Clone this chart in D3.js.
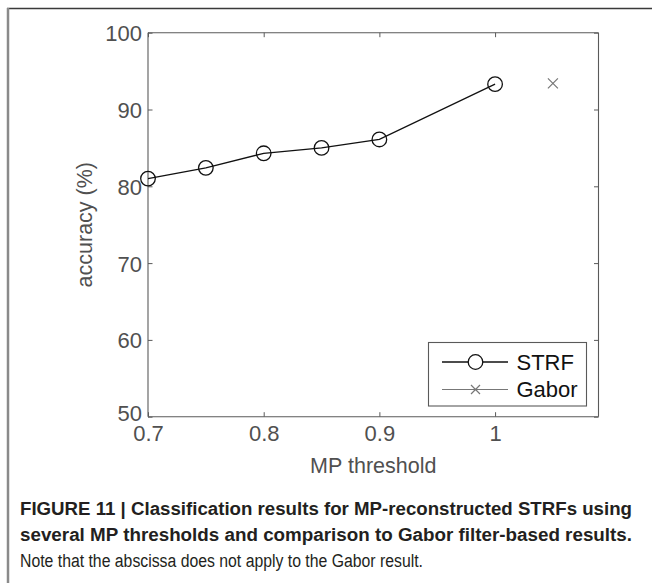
<!DOCTYPE html>
<html lang="en">
<head>
    <meta charset="UTF-8">
    <title>MP threshold accuracy</title>
    <style>
        body {
            margin: 0;
            padding: 0;
            background: #fff;
            overflow: hidden;
            font-family: "Liberation Sans", Arial, sans-serif;
        }
        .tick-label {
            fill: #505050;
        }
        .axis-title {
            font-size: 21.5px;
            fill: #505050;
        }
        .caption-bold {
            font-family: "Liberation Sans Narrow", "Arial Narrow", "Liberation Sans", sans-serif;
            font-weight: bold;
            font-size: 18px;
            fill: #231f20;
        }
        .caption {
            font-family: "Liberation Sans Narrow", "Arial Narrow", "Liberation Sans", sans-serif;
            font-size: 18px;
            fill: #231f20;
        }
    </style>
    <script src="https://d3js.org/d3.v7.min.js"></script>
</head>
<body>
<script>
    // data
    const thresholds = [0.7, 0.75, 0.8, 0.85, 0.9, 1.0];
    const strfAccuracy = [81.0, 82.4, 84.3, 85.0, 86.1, 93.3];
    const gaborX = 1.05;          // placed to the right, abscissa does not apply
    const gaborAccuracy = 93.4;

    const xTicks = [0.7, 0.8, 0.9, 1];
    const yTicks = [50, 60, 70, 80, 90, 100];

    const W = 652, H = 583;
    const plot = {left: 148, right: 598.5, top: 32.7, bottom: 416.7};

    const svg = d3.select('body').append('svg')
        .attr('width', W)
        .attr('height', H);

    // figure frame (top and left rules)
    svg.append('line')
        .attr('x1', 7).attr('x2', W).attr('y1', 8.5).attr('y2', 8.5)
        .attr('stroke', '#3a3a3a').attr('stroke-width', 1.5);
    svg.append('line')
        .attr('x1', 8).attr('x2', 8).attr('y1', 8).attr('y2', H)
        .attr('stroke', '#8a8a8a').attr('stroke-width', 2.5);

    const x = d3.scaleLinear().domain([0.7, 1.0894]).range([plot.left, plot.right]);
    const y = d3.scaleLinear().domain([50, 100]).range([plot.bottom, plot.top]);

    const axisColor = '#5a5a5a';
    const tickLen = 4.5;

    // axes, MATLAB style: inward ticks on all four sides
    const bottomAxis = svg.append('g')
        .attr('transform', `translate(0,${plot.bottom})`)
        .call(d3.axisBottom(x).tickValues(xTicks).tickSize(-tickLen).tickPadding(8).tickFormat(d3.format('')));
    const topAxis = svg.append('g')
        .attr('transform', `translate(0,${plot.top})`)
        .call(d3.axisTop(x).tickValues(xTicks).tickSize(-tickLen).tickFormat(''));
    const leftAxis = svg.append('g')
        .attr('transform', `translate(${plot.left},0)`)
        .call(d3.axisLeft(y).tickValues(yTicks).tickSize(-tickLen).tickPadding(6));
    const rightAxis = svg.append('g')
        .attr('transform', `translate(${plot.right},0)`)
        .call(d3.axisRight(y).tickValues(yTicks).tickSize(-tickLen).tickFormat(''));

    [bottomAxis, topAxis, leftAxis, rightAxis].forEach(a => {
        a.select('.domain').attr('stroke', axisColor).attr('stroke-width', 1.1);
        a.selectAll('.tick line').attr('stroke', axisColor).attr('stroke-width', 1);
        a.selectAll('.tick text')
            .attr('class', 'tick-label')
            .attr('fill', null)
            .style('font-family', '"Liberation Sans", Arial, sans-serif')
            .style('font-size', '22px');
    });
    bottomAxis.selectAll('.tick text').attr('dy', '0.71em').attr('y', 9);
    leftAxis.selectAll('.tick text').attr('dy', '0.36em');
    // the lowest y label sits a bit higher than the tick in the original
    leftAxis.selectAll('.tick text').filter(d => d === 50).attr('dy', '0.15em');
    // the domain path draws outer ticks of size tickSize; replace with plain lines
    [bottomAxis, topAxis].forEach(a => a.select('.domain')
        .attr('d', `M${plot.left},0H${plot.right}`));
    [leftAxis, rightAxis].forEach(a => a.select('.domain')
        .attr('d', `M0,${plot.top}V${plot.bottom}`));

    // axis titles
    svg.append('text')
        .attr('class', 'axis-title')
        .attr('x', (plot.left + plot.right) / 2)
        .attr('y', 473)
        .attr('text-anchor', 'middle')
        .text('MP threshold');
    svg.append('text')
        .attr('class', 'axis-title')
        .attr('transform', `translate(92,${(plot.top + plot.bottom) / 2}) rotate(-90)`)
        .attr('text-anchor', 'middle')
        .text('accuracy (%)');

    // STRF series
    const pts = thresholds.map((t, i) => [t, strfAccuracy[i]]);
    svg.append('path')
        .datum(pts)
        .attr('fill', 'none')
        .attr('stroke', '#111')
        .attr('stroke-width', 1.3)
        .attr('d', d3.line().x(d => x(d[0])).y(d => y(d[1])));
    svg.selectAll('.strf-pt')
        .data(pts)
        .enter().append('circle')
        .attr('class', 'strf-pt')
        .attr('cx', d => x(d[0]))
        .attr('cy', d => y(d[1]))
        .attr('r', 7.3)
        .attr('fill', 'none')
        .attr('stroke', '#111')
        .attr('stroke-width', 1.3);

    // Gabor marker
    const cross = (g, cx, cy, s, color) => {
        g.append('path')
            .attr('d', `M${cx - s},${cy - s}L${cx + s},${cy + s}M${cx - s},${cy + s}L${cx + s},${cy - s}`)
            .attr('stroke', color)
            .attr('stroke-width', 1.2)
            .attr('fill', 'none');
    };
    cross(svg, x(gaborX), y(gaborAccuracy), 5, '#777');

    // legend
    const lg = svg.append('g');
    lg.append('rect')
        .attr('x', 428.5).attr('y', 342.5)
        .attr('width', 158).attr('height', 63.5)
        .attr('fill', '#fff')
        .attr('stroke', axisColor)
        .attr('stroke-width', 1.1);
    const rows = [
        {name: 'STRF', y: 362, color: '#111', marker: 'o'},
        {name: 'Gabor', y: 389.5, color: '#777', marker: 'x'}
    ];
    rows.forEach(r => {
        lg.append('line')
            .attr('x1', 442).attr('x2', 508)
            .attr('y1', r.y).attr('y2', r.y)
            .attr('stroke', r.color)
            .attr('stroke-width', r.marker === 'o' ? 1.3 : 1.1);
        if (r.marker === 'o') {
            lg.append('circle')
                .attr('cx', 475.5).attr('cy', r.y).attr('r', 7.3)
                .attr('fill', '#fff').attr('stroke', r.color).attr('stroke-width', 1.3);
        } else {
            cross(lg, 475.5, r.y, 4.5, r.color);
        }
        lg.append('text')
            .attr('x', 516.5)
            .attr('y', r.y)
            .attr('dy', '0.36em')
            .style('font-size', '22px')
            .attr('fill', '#111')
            .text(r.name);
    });

    // caption
    svg.append('text')
        .attr('class', 'caption-bold')
        .attr('x', 20).attr('y', 515)
        .attr('textLength', 612).attr('lengthAdjust', 'spacingAndGlyphs')
        .text('FIGURE 11 | Classification results for MP-reconstructed STRFs using');
    svg.append('text')
        .attr('class', 'caption-bold')
        .attr('x', 20).attr('y', 541)
        .attr('textLength', 612).attr('lengthAdjust', 'spacingAndGlyphs')
        .text('several MP thresholds and comparison to Gabor filter-based results.');
    svg.append('text')
        .attr('class', 'caption')
        .attr('x', 20).attr('y', 567)
        .attr('textLength', 403).attr('lengthAdjust', 'spacingAndGlyphs')
        .text('Note that the abscissa does not apply to the Gabor result.');
</script>
</body>
</html>
